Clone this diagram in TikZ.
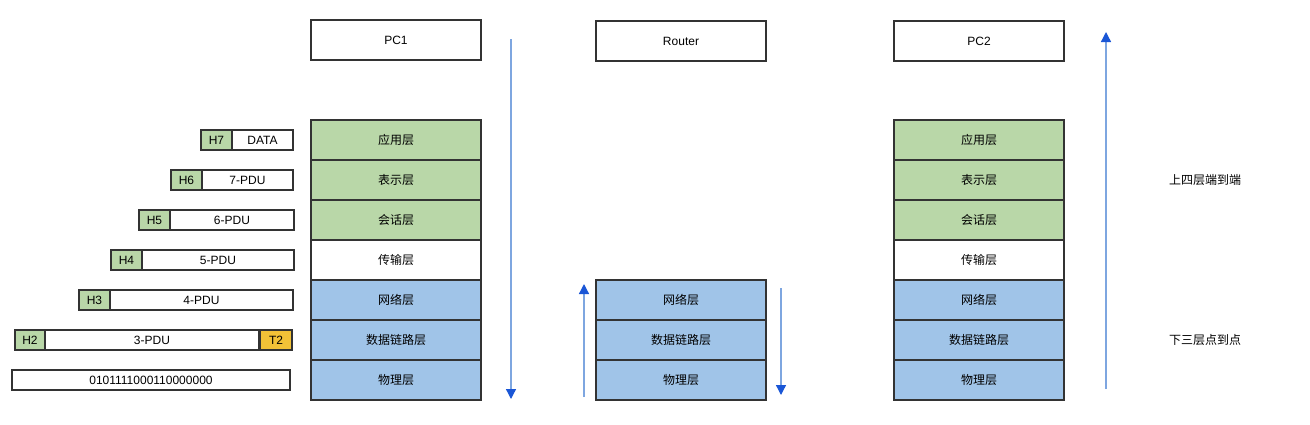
\documentclass[tikz,border=0pt]{standalone}
\usepackage{fontspec}
\setmainfont{Liberation Sans}
\newfontfamily\cjk{Noto Sans CJK SC}
\usetikzlibrary{arrows.meta}
\definecolor{gfill}{HTML}{B9D7A8}
\definecolor{bfill}{HTML}{A0C4E8}
\definecolor{ofill}{HTML}{F2C237}
\definecolor{bord}{HTML}{333333}
\definecolor{aline}{HTML}{7EA6E0}
\definecolor{ahead}{HTML}{1A56D6}
\begin{document}
\begin{tikzpicture}[x=1pt,y=-1pt,
  box/.style={draw=bord,line width=1.5pt,inner sep=0pt,font=\fontsize{12}{14}\selectfont},
  layer/.style={box,minimum width=170pt,minimum height=40pt,font=\cjk\fontsize{12}{14}\selectfont},
  pdu/.style={box,minimum height=20pt,fill=white},
  flow/.style={draw=aline,line width=1.3pt,-{Triangle[length=10pt,width=10pt,color=ahead]}},
  note/.style={font=\cjk\fontsize{12}{14}\selectfont}]
\useasboundingbox (0,0) rectangle (1310,424);
% headers
\node[box,minimum width=170pt,minimum height=40pt] (pc1) at (396,40) {PC1};
\node[box,minimum width=170pt,minimum height=40pt] (router) at (681,41) {Router};
\node[box,minimum width=170pt,minimum height=40pt] (pc2) at (979,41) {PC2};
% PC1 stack
\node[layer,fill=gfill] (a1) at (396,140) {应用层};
\node[layer,fill=gfill] (p1) at (396,180) {表示层};
\node[layer,fill=gfill] (s1) at (396,220) {会话层};
\node[layer,fill=white] (t1) at (396,260) {传输层};
\node[layer,fill=bfill] (n1) at (396,300) {网络层};
\node[layer,fill=bfill] (d1) at (396,340) {数据链路层};
\node[layer,fill=bfill] (ph1) at (396,380) {物理层};
% Router stack
\node[layer,fill=bfill] (nr) at (681,300) {网络层};
\node[layer,fill=bfill] (dr) at (681,340) {数据链路层};
\node[layer,fill=bfill] (phr) at (681,380) {物理层};
% PC2 stack
\node[layer,fill=gfill] (a2) at (979,140) {应用层};
\node[layer,fill=gfill] (p2) at (979,180) {表示层};
\node[layer,fill=gfill] (s2) at (979,220) {会话层};
\node[layer,fill=white] (t2) at (979,260) {传输层};
\node[layer,fill=bfill] (n2) at (979,300) {网络层};
\node[layer,fill=bfill] (d2) at (979,340) {数据链路层};
\node[layer,fill=bfill] (ph2) at (979,380) {物理层};
% PDUs
\node[pdu,minimum width=61pt] (data) at (262.5,140) {DATA};
\node[pdu,fill=gfill,minimum width=31pt] (h7) at (216.5,140) {H7};
\node[pdu,minimum width=91pt] (pdu7) at (247.5,180) {7-PDU};
\node[pdu,fill=gfill,minimum width=31pt] (h6) at (186.5,180) {H6};
\node[pdu,minimum width=124pt] (pdu6) at (232,220) {6-PDU};
\node[pdu,fill=gfill,minimum width=31pt] (h5) at (154.5,220) {H5};
\node[pdu,minimum width=152pt] (pdu5) at (218,260) {5-PDU};
\node[pdu,fill=gfill,minimum width=31pt] (h4) at (126.5,260) {H4};
\node[pdu,minimum width=183pt] (pdu4) at (201.5,300) {4-PDU};
\node[pdu,fill=gfill,minimum width=31pt] (h3) at (94.5,300) {H3};
\node[pdu,minimum width=214pt] (pdu3) at (152,340) {3-PDU};
\node[pdu,fill=gfill,minimum width=30pt] (h2) at (30,340) {H2};
\node[pdu,fill=ofill,minimum width=32pt] (tr2) at (276,340) {T2};
\node[pdu,minimum width=278pt] (bits) at (151,380) {0101111000110000000};
% arrows
\coordinate (pc1s) at (511,39);
\coordinate (pc1e) at (511,399);
\draw[flow] (pc1s) -- (pc1e);
\coordinate (rus) at (584,397);
\coordinate (rue) at (584,284);
\draw[flow] (rus) -- (rue);
\coordinate (rds) at (781,288);
\coordinate (rde) at (781,395);
\draw[flow] (rds) -- (rde);
\coordinate (pc2s) at (1106,389);
\coordinate (pc2e) at (1106,32);
\draw[flow] (pc2s) -- (pc2e);
% notes
\node[note] (up4) at (1205,180) {上四层端到端};
\node[note] (dn3) at (1205,340) {下三层点到点};
\end{tikzpicture}
\end{document}
